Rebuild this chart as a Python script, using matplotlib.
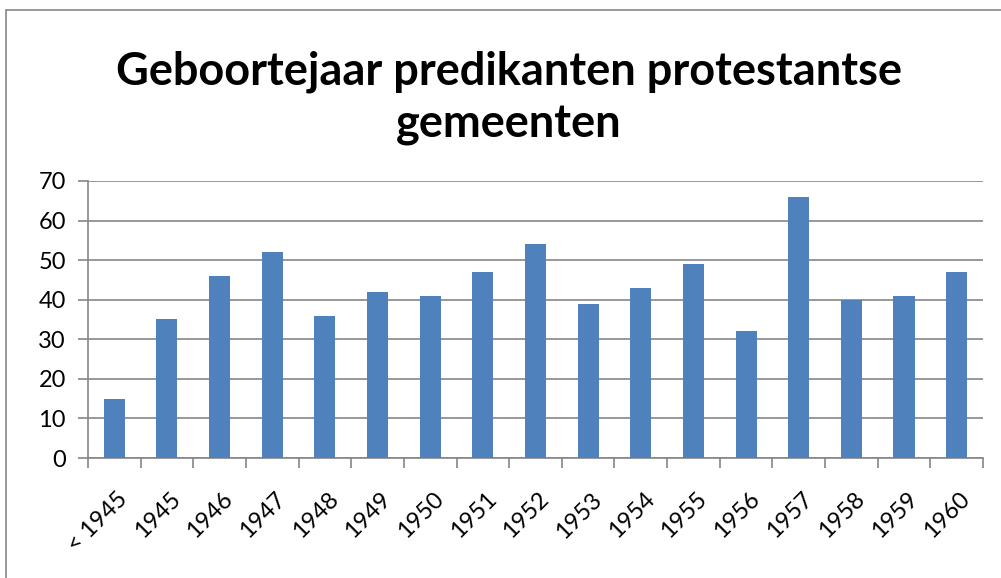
import numpy as np
import matplotlib.pyplot as plt
from matplotlib.patches import Rectangle

plt.rcParams['font.family'] = ['Lato', 'DejaVu Sans']

# Data
categories = ['< 1945', '1945', '1946', '1947', '1948', '1949', '1950', '1951', '1952',
              '1953', '1954', '1955', '1956', '1957', '1958', '1959', '1960']
counts = [15, 35, 46, 52, 36, 42, 41, 47, 54, 39, 43, 49, 32, 66, 40, 41, 47]

fig = plt.figure(figsize=(10.01, 5.78), dpi=100)
ax = fig.add_axes([0.0879, 0.2076, 0.8941, 0.4793])

x = np.arange(len(categories))
ax.bar(x, counts, width=0.4, color='#4F81BD', zorder=3)

ax.set_xlim(-0.5, len(categories) - 0.5)
ax.set_ylim(0, 70)
ax.set_yticks(range(0, 71, 10))
ax.yaxis.grid(True, color='#868686', linewidth=1.2, zorder=0)

# category boundary ticks
ax.set_xticks(np.arange(-0.5, len(categories), 1.0))
ax.set_xticklabels([])
ax.set_xticks(x + 0.05, minor=True)
ax.set_xticklabels(categories, minor=True, rotation=45, ha='right', va='top',
                   rotation_mode='anchor', fontsize=17)
ax.tick_params(axis='x', which='minor', length=0, pad=22)
ax.tick_params(axis='x', which='major', length=7, width=1.2, color='#868686')
ax.tick_params(axis='y', length=7, width=1.2, color='#868686', labelsize=17, pad=9)

for side in ['top', 'right']:
    ax.spines[side].set_visible(False)
for side in ['left', 'bottom']:
    ax.spines[side].set_color('#868686')
    ax.spines[side].set_linewidth(1.2)

fig.text(0.508, 0.83, 'Geboortejaar predikanten protestantse\ngemeenten',
         ha='center', va='center', fontsize=32.5, fontweight='bold', linespacing=1.32)

# chart border
fig.patches.append(Rectangle((6 / 1001, -0.1), 1.2, 1.1 - 10 / 578,
                             transform=fig.transFigure, fill=False,
                             edgecolor='#868686', linewidth=1.2))

fig.savefig('out.png', dpi=100)
